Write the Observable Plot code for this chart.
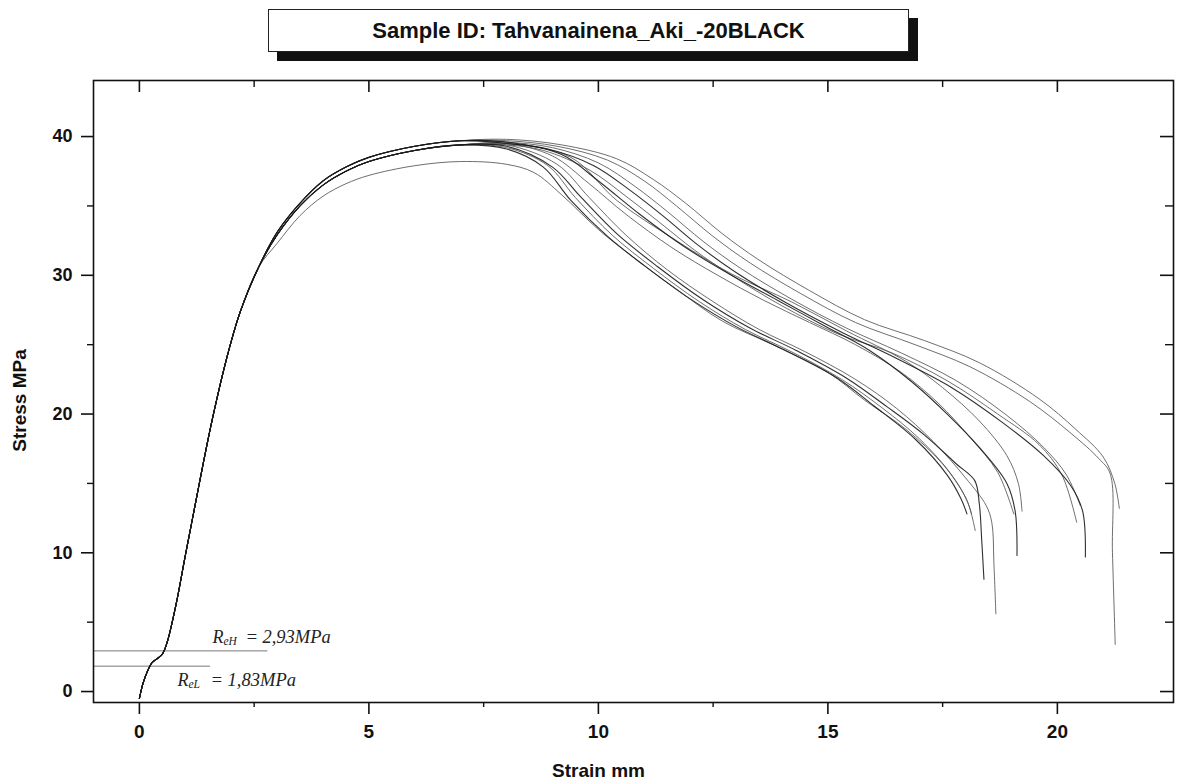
<!DOCTYPE html>
<html><head><meta charset="utf-8">
<script src="https://cdn.jsdelivr.net/npm/d3@7"></script>
<script src="https://cdn.jsdelivr.net/npm/@observablehq/plot@0.6"></script>
<style>
html,body{margin:0;padding:0;background:#fff;}
#wrap{position:relative;width:1182px;height:782px;overflow:hidden;background:#fff;}
#chart{position:absolute;left:0;top:0;}
#title{position:absolute;left:268px;top:9px;width:639px;height:41px;border:1.5px solid #222;background:#fff;box-shadow:9px 9px 0 #111;font:bold 22px "Liberation Sans",Arial,sans-serif;color:#111;display:flex;align-items:center;justify-content:center;}
</style></head>
<body><div id="wrap"><div id="chart"></div><div id="title">Sample ID: Tahvanainena_Aki_-20BLACK</div></div>
<script>
// ---- axis ticks ----
const xMajor = [0, 5, 10, 15, 20];
const xMinor = [2.5, 7.5, 12.5, 17.5];
const yMajor = [0, 10, 20, 30, 40];
const yMinor = [5, 15, 25, 35];
const xDomain = [-1.0, 22.53];
const yDomain = [-0.79, 44.04];

// ---- curve data (strain mm, stress MPa) ----
const riseCommon = [[0,-0.5],[0.08,0.6],[0.18,1.5],[0.28,2.1],[0.4,2.4],[0.5,2.7],[0.6,3.5],[0.8,6.3],[1.0,9.8],[1.2,13.2],[1.4,16.6],[1.6,19.8],[1.9,24.0],[2.2,27.4],[2.6,30.6]];
const plateauMain = [[3.0,32.9],[3.5,35.0],[4.0,36.5],[4.5,37.5],[5.0,38.2],[6.0,39.0],[7.0,39.4]];
const plateauHigh = [[3.0,33.1],[3.5,35.2],[4.0,36.8],[4.5,37.8],[5.0,38.5],[6.0,39.3],[7.0,39.7]];
const plateauLow  = [[3.0,32.3],[3.5,34.3],[4.0,35.7],[4.5,36.6],[5.0,37.2],[6.0,37.9],[7.0,38.2]];

const tailL1 = [[8,39.1],[8.8,37.8],[9.4,35.4],[10.2,32.8],[11,30.7],[12,28.3],[13,26.3],[14,24.7],[15.2,22.6],[16,20.6],[16.9,18.2],[17.6,15.6],[17.9,13.9],[18.03,12.8]];
const tailL2 = [[8,39.2],[8.9,37.9],[9.5,35.6],[10.3,32.9],[11.2,30.5],[12.2,28.1],[13.2,26.1],[14.2,24.5],[15.3,22.5],[16.2,20.4],[17,18.2],[17.7,15.6],[18.05,13.6],[18.21,11.6]];
const tailL3 = [[8,39.3],[9,37.8],[9.6,35.7],[10.4,33.0],[11.3,30.6],[12.3,28.2],[13.3,26.2],[14.3,24.6],[15.4,22.6],[16.3,20.5],[17.1,18.5],[17.8,16.4],[18.2,15.2],[18.3,13.5],[18.35,11.0],[18.4,8.1]];
const tailL4 = [[8,39.4],[9.1,38.0],[9.8,35.6],[10.6,32.9],[11.5,30.4],[12.5,28.1],[13.5,26.1],[14.5,24.5],[15.6,22.5],[16.5,20.4],[17.3,18.0],[18.0,15.4],[18.45,13.4],[18.57,12.2],[18.62,9.0],[18.66,5.6]];
const tailL5 = [[8,38.0],[8.6,37.4],[9.2,35.8],[10,33.3],[10.8,31.2],[11.7,29.0],[12.7,26.7],[13.8,25.0],[15,23.0],[15.8,21.0],[16.7,18.9],[17.5,16.4],[18.0,14.0],[18.13,12.8]];
const tailM1 = [[8,39.5],[9,38.6],[9.8,36.6],[10.6,34.4],[11.6,32.0],[12.6,30.0],[13.6,28.2],[14.6,26.6],[15.6,25.0],[16.6,23.0],[17.4,20.8],[18.1,18.3],[18.7,15.8],[19.05,12.8]];
const tailM2 = [[8,39.6],[9.2,38.7],[10,36.8],[10.9,34.4],[11.9,32.0],[12.9,30.0],[13.9,28.2],[14.9,26.4],[15.9,24.6],[16.8,22.4],[17.6,20.0],[18.3,17.6],[18.9,15.0],[19.08,13.0],[19.12,9.8]];
const tailM3 = [[8,39.5],[9.4,38.5],[10.4,35.4],[11.7,32.5],[12.9,30.1],[14.2,28.1],[15.4,26.0],[16.7,23.8],[17.5,21.9],[18.3,19.5],[18.9,17.0],[19.15,15.0],[19.23,13.0]];
const tailU1 = [[8,39.4],[8.8,39.0],[9.8,37.6],[10.6,35.7],[11.3,33.9],[12.1,31.8],[12.9,30.0],[14,27.8],[15.2,25.8],[16.4,24.4],[17.6,22.4],[18.7,20.0],[19.6,17.8],[20.1,15.6],[20.42,12.2]];
const tailU2 = [[8,39.5],[8.9,39.1],[9.9,37.9],[10.7,36.1],[11.4,34.3],[12.2,32.1],[13,30.2],[14.1,28.0],[15.3,25.9],[16.5,24.0],[17.7,21.9],[18.8,19.4],[19.7,17.0],[20.3,14.8],[20.55,13.0],[20.61,9.7]];
const tailU3 = [[8,39.6],[9,39.2],[10,38.1],[10.8,36.4],[11.5,34.6],[12.3,32.4],[13.1,30.5],[14.2,28.3],[15.4,26.2],[16.6,24.4],[17.8,22.4],[18.9,19.9],[19.7,17.6],[20.2,15.6],[20.5,13.4]];
const tailU4 = [[8,39.7],[9.1,39.3],[10.2,38.3],[11,36.8],[11.7,35.0],[12.5,32.8],[13.3,30.9],[14.4,28.7],[15.6,26.6],[16.9,25.0],[18.1,23.4],[19.4,20.9],[20.3,18.6],[20.9,16.8],[21.15,15.7],[21.2,10.0],[21.26,3.4]];
const tailU5 = [[8,39.8],[9.2,39.4],[10.4,38.4],[11.2,36.9],[11.9,35.2],[12.7,33.0],[13.5,31.1],[14.6,28.9],[15.8,26.8],[17.1,25.3],[18.3,23.7],[19.6,21.1],[20.4,18.9],[21.0,16.9],[21.25,15.0],[21.35,13.2]];

// ---- annotations ----
const yieldValues = [2.93, 1.83];
const yieldSubs = ["eH", "eL"];
const yieldTexts = ["= 2,93MPa", "= 1,83MPa"];
const yieldLineEnd = [2.8, 1.55];
const yieldLabelStrain = [1.59, 0.83];
const yieldLabelStress = [3.9, 0.8];

const curves = [
  {id:"L1", plateau: plateauMain, tail: tailL1, dark: true},
  {id:"L2", plateau: plateauMain, tail: tailL2, dark: false},
  {id:"L3", plateau: plateauMain, tail: tailL3, dark: true},
  {id:"L4", plateau: plateauMain, tail: tailL4, dark: false},
  {id:"L5", plateau: plateauLow,  tail: tailL5, dark: false},
  {id:"M1", plateau: plateauMain, tail: tailM1, dark: false},
  {id:"M2", plateau: plateauHigh, tail: tailM2, dark: true},
  {id:"M3", plateau: plateauMain, tail: tailM3, dark: false},
  {id:"U1", plateau: plateauMain, tail: tailU1, dark: false},
  {id:"U2", plateau: plateauHigh, tail: tailU2, dark: true},
  {id:"U3", plateau: plateauHigh, tail: tailU3, dark: false},
  {id:"U4", plateau: plateauHigh, tail: tailU4, dark: false},
  {id:"U5", plateau: plateauHigh, tail: tailU5, dark: false}
];
const rows = curves.flatMap(c => [...riseCommon, ...c.plateau, ...c.tail].map(([strain, stress]) => ({id: c.id, dark: c.dark, strain, stress})));

const frameW = 1182 - 93 - 9;
const frameH = 782 - 80 - 80;
const narrow = "'Liberation Sans Narrow','Liberation Sans',Arial,sans-serif";
const sans = "'Liberation Sans',Arial,sans-serif";
const serif = "'Liberation Serif','DejaVu Serif',serif";

const chart = Plot.plot({
  width: 1182, height: 782,
  marginLeft: 93, marginRight: 9, marginTop: 80, marginBottom: 80,
  x: {domain: xDomain},
  y: {domain: yDomain},
  style: {background: "white", color: "#111", fontFamily: sans},
  marks: [
    // yield lines
    Plot.ruleY(yieldValues, {y: d => d, x1: () => xDomain[0], x2: (d, i) => yieldLineEnd[i], stroke: "#777", strokeWidth: 1}),
    // curves
    Plot.line(rows.filter(d => !d.dark), {x: "strain", y: "stress", z: "id", stroke: "#555", strokeWidth: 1, strokeOpacity: 0.85, curve: "catmull-rom"}),
    Plot.line(rows.filter(d => d.dark), {x: "strain", y: "stress", z: "id", stroke: "#1a1a1a", strokeWidth: 1.1, strokeOpacity: 0.9, curve: "catmull-rom"}),
    // yield labels
    Plot.text(yieldValues, {x: (d, i) => yieldLabelStrain[i], y: (d, i) => yieldLabelStress[i], text: () => "R", textAnchor: "start", fontStyle: "italic", fontFamily: serif, fontSize: 18, fill: "#222"}),
    Plot.text(yieldValues, {x: (d, i) => yieldLabelStrain[i], y: (d, i) => yieldLabelStress[i], text: (d, i) => yieldSubs[i], textAnchor: "start", dx: 11, dy: 4, fontStyle: "italic", fontFamily: serif, fontSize: 11.5, fill: "#222"}),
    Plot.text(yieldValues, {x: (d, i) => yieldLabelStrain[i], y: (d, i) => yieldLabelStress[i], text: (d, i) => yieldTexts[i], textAnchor: "start", dx: 33, fontStyle: "italic", fontFamily: serif, fontSize: 18.5, fill: "#222"}),
    // frame
    Plot.frame({stroke: "#111", strokeWidth: 1.6}),
    // bottom axis (outward)
    Plot.axisX(xMajor, {anchor: "bottom", tickSize: 12, tickPadding: 10, strokeWidth: 1.6, fontSize: 19, fontWeight: "bold", fontFamily: narrow, label: null}),
    Plot.axisX(xMinor, {anchor: "bottom", tickSize: 5, strokeWidth: 1.4, tickFormat: () => "", label: null}),
    // left axis (outward)
    Plot.axisY(yMajor, {anchor: "left", tickSize: 12, tickPadding: 9, strokeWidth: 1.6, fontSize: 18, fontWeight: "bold", fontFamily: sans, label: null}),
    Plot.axisY(yMinor, {anchor: "left", tickSize: 6, strokeWidth: 1.4, tickFormat: () => "", label: null}),
    // top axis ticks (inward)
    Plot.ruleX(xMajor, {insetBottom: frameH - 12, stroke: "#111", strokeWidth: 1.6}),
    Plot.ruleX(xMinor, {insetBottom: frameH - 7, stroke: "#111", strokeWidth: 1.4}),
    // right axis ticks (inward)
    Plot.ruleY(yMajor, {insetLeft: frameW - 13, stroke: "#111", strokeWidth: 1.6}),
    Plot.ruleY(yMinor, {insetLeft: frameW - 8, stroke: "#111", strokeWidth: 1.4}),
    // axis titles
    Plot.text(["Strain mm"], {frameAnchor: "bottom", dx: -35, dy: 68, lineAnchor: "middle", text: d => d, fontSize: 19, fontWeight: "bold", fontFamily: narrow, fill: "#111"}),
    Plot.text(["Stress MPa"], {frameAnchor: "left", dx: -74, dy: 9, rotate: -90, textAnchor: "middle", text: d => d, fontSize: 19, fontWeight: "bold", fontFamily: sans, fill: "#111"})
  ]
});
document.getElementById("chart").appendChild(chart);
</script>
</body></html>
